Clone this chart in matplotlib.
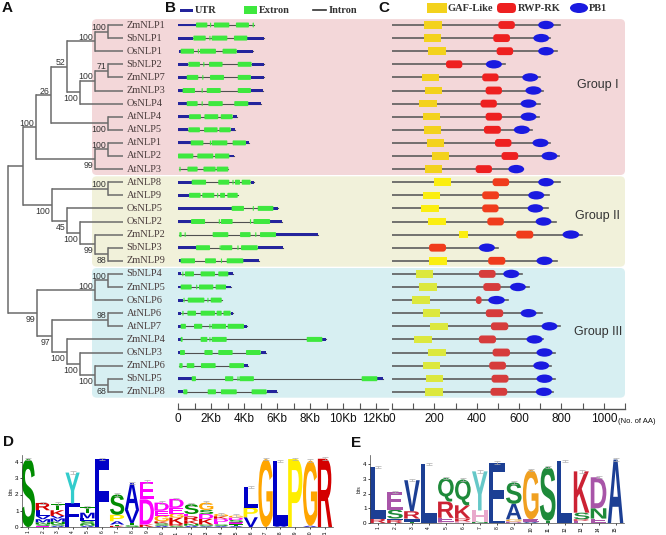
import matplotlib
matplotlib.use("Agg")
import matplotlib.pyplot as plt
from matplotlib.patches import Rectangle, FancyBboxPatch, Ellipse, PathPatch
from matplotlib.textpath import TextPath
from matplotlib.font_manager import FontProperties
from matplotlib.transforms import Affine2D, blended_transform_factory

plt.rcParams["font.family"] = ["Liberation Sans", "DejaVu Sans"]

# ---------------- data ----------------
genes = ["ZmNLP1", "SbNLP1", "OsNLP1", "SbNLP2", "ZmNLP7", "ZmNLP3", "OsNLP4",
         "AtNLP4", "AtNLP5", "AtNLP1", "AtNLP2", "AtNLP3",
         "AtNLP8", "AtNLP9", "OsNLP5", "OsNLP2", "ZmNLP2", "SbNLP3", "ZmNLP9",
         "SbNLP4", "ZmNLP5", "OsNLP6", "AtNLP6", "AtNLP7", "ZmNLP4", "OsNLP3",
         "ZmNLP6", "SbNLP5", "ZmNLP8"]
group_names = ["Group I", "Group II", "Group III"]
group_sizes = [12, 7, 10]

# tree nodes: (depth, bootstrap, label side -1 above / +1 below, children)
tree = (8, "", 0, [
    (23, "", 0, [
        (36, "100", -1, [
            (51, "26", -1, [
                (67, "52", -1, [
                    (95, "100", -1, [(108, "100", -1, ["ZmNLP1", "SbNLP1"]), "OsNLP1"]),
                    (80, "100", 1, [
                        (95, "100", -1, [(108, "71", -1, ["SbNLP2", "ZmNLP7"]), "ZmNLP3"]),
                        "OsNLP4"]),
                ]),
                (108, "100", 1, ["AtNLP4", "AtNLP5"]),
            ]),
            (95, "99", 1, [(108, "100", -1, ["AtNLP1", "AtNLP2"]), "AtNLP3"]),
        ]),
        (52, "100", 1, [
            (108, "100", -1, ["AtNLP8", "AtNLP9"]),
            (67, "45", 1, ["OsNLP5",
                (80, "100", 1, ["OsNLP2",
                    (95, "99", 1, ["ZmNLP2", (108, "88", 1, ["SbNLP3", "ZmNLP9"])])])]),
        ]),
    ]),
    (37, "99", 1, [
        (95, "100", -1, [(108, "100", -1, ["SbNLP4", "ZmNLP5"]), "OsNLP6"]),
        (52, "97", 1, [
            (108, "98", -1, ["AtNLP6", "AtNLP7"]),
            (67, "100", 1, ["ZmNLP4",
                (80, "100", 1, ["OsNLP3",
                    (95, "100", 1, ["ZmNLP6", (108, "68", 1, ["SbNLP5", "ZmNLP8"])])])]),
        ]),
    ]),
])
tree_tip = 123

# gene structures (Kb)
gene_utr = [
    [(0.02, 1.09)], [(0, 0.93), (4.2, 5.23)], [(0.08, 0.16), (3.56, 4.53)],
    [(0, 0.63), (4.46, 5.21)], [(0, 0.53), (4.42, 5.23)], [(0, 0.28), (4.42, 5.13)],
    [(0, 0.53), (4.26, 5.03)], [(0, 0.67), (3.31, 3.56)], [(0, 0.63), (3.19, 3.45)],
    [(0, 0.77), (4.12, 4.32)], [(3.11, 3.41)], [],
    [(0, 0.83), (4.4, 4.6)], [(0, 0.67)], [(0, 3.25), (5.78, 6.04)],
    [(0, 0.79), (5.58, 6.28)], [(5.94, 8.5)], [(0, 1.09), (4.83, 6.34)],
    [(0.08, 0.16), (3.96, 4.93)],
    [(0, 0.2), (3.05, 3.31)], [(0, 0.16), (2.91, 3.21)], [(0, 0.28)],
    [(0, 0.16), (3.19, 3.35)], [(0, 0.16), (4.0, 4.16)], [(0, 0.16), (8.75, 8.95)],
    [(0, 0.12), (5.01, 5.31)], [(4.0, 4.26)], [(0, 0.83), (12.08, 12.44)],
    [(0, 0.32), (5.37, 6.02)],
]
gene_exon = [
    [(1.09, 1.78), (1.94, 2.0), (2.18, 3.11), (3.51, 4.3), (4.52, 4.6)],
    [(0.93, 1.68), (1.9, 1.96), (2.04, 2.99), (3.39, 4.2)],
    [(0.16, 0.97), (1.2, 1.25), (1.33, 2.3), (2.7, 3.56)],
    [(0.63, 1.33), (1.53, 1.58), (1.88, 2.7), (3.62, 4.46)],
    [(0.53, 1.23), (1.47, 1.52), (1.94, 2.79), (3.62, 4.42)],
    [(0.28, 1.03), (1.43, 1.48), (1.74, 2.59), (3.62, 4.42)],
    [(0.53, 1.19), (1.43, 1.48), (1.84, 2.71), (3.41, 4.26)],
    [(0.67, 1.39), (1.6, 2.44), (2.59, 3.31)],
    [(0.63, 1.33), (1.58, 2.4), (2.5, 3.19)],
    [(0.77, 1.54), (1.93, 1.98), (2.04, 2.99), (3.31, 4.12)],
    [(0, 0.93), (1.17, 2.14), (2.24, 3.11)],
    [(0.08, 0.16), (0.57, 1.19), (1.54, 2.28), (2.34, 3.05)],
    [(0.83, 1.7), (2.44, 3.11), (3.3, 3.35), (3.45, 3.76), (3.86, 4.4)],
    [(0.67, 1.37), (1.47, 2.2), (2.37, 2.42), (2.55, 2.85), (2.99, 3.62)],
    [(3.25, 4.0), (4.53, 4.6), (4.83, 5.78)],
    [(0.79, 1.64), (2.47, 2.52), (2.6, 3.31), (4.36, 4.41), (4.57, 5.58)],
    [(0.08, 0.22), (0.4, 0.46), (2.1, 3.05), (3.76, 4.4), (4.68, 4.74), (4.97, 5.94)],
    [(1.09, 1.94), (2.52, 2.57), (2.6, 3.29), (3.6, 3.65), (3.82, 4.83)],
    [(0.16, 1.03), (1.64, 2.3), (2.6, 2.65), (2.95, 3.96)],
    [(0.26, 0.32), (0.42, 0.97), (1.37, 2.24), (2.44, 3.05)],
    [(0.16, 0.83), (1.1, 1.15), (1.27, 2.14), (2.28, 2.91)],
    [(0.33, 0.4), (0.59, 1.6), (1.78, 1.85), (1.98, 2.65)],
    [(0.26, 0.34), (0.57, 1.09), (1.37, 2.24), (2.34, 2.65), (2.75, 3.19)],
    [(0.16, 0.48), (0.97, 1.47), (1.9, 1.96), (2.04, 2.91), (3.01, 4.0)],
    [(0.16, 0.28), (1.37, 1.78), (1.9, 1.95), (2.04, 2.95), (7.8, 8.75)],
    [(0.12, 0.42), (1.6, 2.1), (2.44, 3.31), (4.12, 5.01)],
    [(0.08, 0.28), (0.53, 0.99), (1.39, 2.28), (3.11, 4.0)],
    [(0.83, 1.09), (2.85, 3.35), (3.6, 3.65), (3.72, 4.6), (11.13, 12.08)],
    [(0.32, 0.57), (1.8, 2.3), (2.6, 3.56), (4.46, 5.37)],
]

# protein domains (AA)
prot_len = [792, 748, 781, 533, 701, 714, 698, 695, 659, 745, 789, 619,
            792, 742, 737, 772, 898, 502, 777,
            616, 646, 549, 706, 792, 714, 769, 753, 769, 761]
gaf = [(151, 234), (151, 231), (171, 253), None, (140, 220), (156, 236), (129, 211),
       (148, 228), (151, 233), (164, 245), (187, 269), (156, 237),
       (198, 278), (145, 226), (138, 220), (171, 253), (316, 357), None, (176, 258),
       (113, 195), (127, 211), (96, 178), (145, 226), (179, 263), (105, 187),
       (171, 253), (145, 226), (160, 242), (156, 239)]
rwp = [(502, 580), (478, 557), (494, 572), (255, 332), (426, 503), (442, 519), (418, 495),
       (442, 519), (434, 514), (486, 564), (517, 596), (395, 472),
       (475, 553), (426, 505), (426, 503), (450, 528), (586, 667), (175, 255), (454, 535),
       (410, 489), (431, 513), (396, 423), (443, 525), (467, 549), (410, 491),
       (475, 557), (459, 538), (470, 550), (465, 544)]
pb1 = [(690, 764), (667, 742), (690, 764), (443, 519), (615, 690), (630, 706), (607, 682),
       (607, 682), (575, 651), (663, 739), (706, 781), (549, 624),
       (690, 764), (643, 719), (640, 714), (678, 753), (805, 884), (410, 486), (682, 758),
       (525, 601), (557, 632), (454, 533), (607, 682), (706, 781), (635, 711),
       (682, 758), (667, 742), (682, 758), (679, 755)]

# sequence logos: stacks bottom -> top (letter, bits)
logo_d = [
    [("S", 4.18)],
    [("E", 0.06), ("S", 0.1), ("N", 0.12), ("M", 0.2), ("V", 0.2), ("L", 0.35), ("R", 0.45)],
    [("A", 0.08), ("S", 0.1), ("N", 0.15), ("M", 0.2), ("V", 0.15), ("K", 0.35), ("T", 0.4)],
    [("L", 0.1), ("F", 1.35), ("Y", 1.9)],
    [("A", 0.08), ("N", 0.1), ("S", 0.2), ("L", 0.15), ("M", 0.35), ("T", 0.35)],
    [("F", 4.18)],
    [("K", 0.07), ("T", 0.08), ("A", 0.2), ("P", 0.4), ("S", 1.25)],
    [("S", 0.1), ("T", 0.15), ("V", 0.8), ("A", 1.65)],
    [("K", 0.15), ("D", 1.55), ("E", 1.1)],
    [("A", 0.08), ("S", 0.15), ("K", 0.12), ("G", 0.35), ("E", 0.3), ("D", 0.5)],
    [("S", 0.08), ("R", 0.1), ("K", 0.4), ("G", 0.25), ("E", 0.35), ("D", 0.55)],
    [("A", 0.08), ("N", 0.12), ("K", 0.2), ("R", 0.25), ("E", 0.15), ("S", 0.6)],
    [("A", 0.05), ("S", 0.1), ("K", 0.35), ("D", 0.3), ("S", 0.25), ("G", 0.45)],
    [("A", 0.06), ("S", 0.1), ("E", 0.15), ("D", 0.2), ("K", 0.15), ("G", 0.15)],
    [("A", 0.06), ("T", 0.1), ("E", 0.12), ("S", 0.15), ("D", 0.15), ("G", 0.12)],
    [("V", 0.6), ("P", 0.6), ("L", 1.25)],
    [("G", 4.18)],
    [("A", 0.08), ("L", 3.97)],
    [("P", 4.18)],
    [("A", 0.08), ("G", 4.0)],
    [("R", 4.2)],
]
logo_e = [
    [("R", 0.3), ("L", 3.5)],
    [("R", 0.2), ("I", 0.1), ("S", 0.6), ("E", 1.2)],
    [("T", 0.1), ("I", 0.2), ("R", 0.5), ("V", 2.1)],
    [("L", 4.0)],
    [("P", 0.1), ("E", 0.25), ("R", 1.1), ("Q", 1.6)],
    [("P", 0.1), ("R", 0.2), ("K", 0.9), ("Q", 1.75)],
    [("N", 0.1), ("H", 0.75), ("Y", 2.65)],
    [("I", 0.15), ("F", 3.95)],
    [("D", 0.1), ("G", 0.15), ("A", 1.05), ("S", 1.45)],
    [("A", 0.1), ("E", 0.15), ("G", 3.35)],
    [("T", 0.15), ("S", 3.65)],
    [("L", 4.2)],
    [("E", 0.15), ("R", 0.1), ("S", 0.45), ("K", 2.8)],
    [("E", 0.3), ("N", 0.7), ("D", 2.1)],
    [("A", 4.3)],
]
colors_d = {"S": "#008c00", "T": "#008c00", "N": "#008c00", "Q": "#008c00",
            "R": "#d40000", "K": "#d40000", "Y": "#33cccc",
            "F": "#0000c8", "L": "#0000c8", "M": "#0000c8", "V": "#0000c8",
            "A": "#0000c8", "I": "#0000c8", "P": "#ffee00", "G": "#ffa500",
            "E": "#ff00ff", "D": "#ff00ff", "H": "#ff00ff"}
colors_e = {"L": "#1c3f94", "V": "#1c3f94", "F": "#1c3f94", "A": "#1c3f94", "I": "#1c3f94",
            "R": "#cc2233", "K": "#cc2233", "Q": "#1e8a3a", "S": "#1e8a3a",
            "N": "#1e8a3a", "T": "#1e8a3a", "Y": "#66c8c8", "H": "#e8a8cc",
            "P": "#e8a8cc", "G": "#f0a020", "E": "#a855a8", "D": "#a855a8"}

band_colors = ["#f3d7d9", "#f1f1da", "#d7eff2"]
gaf_colors = ["#f3d21c", "#fbee10", "#dce83e"]
rwp_colors = ["#ee2020", "#f03c1c", "#d63c3c"]
pb1_color = "#1a1ae0"
utr_color = "#24249c"
exon_color = "#3ee83e"
tree_color = "#6b6b6b"

# ---------------- layout ----------------
W, H = 666, 535
fig = plt.figure(figsize=(W / 100, H / 100), dpi=100)
ROW0, ROW_PX = 25, 13.1


def px_axes(x0, y0, x1, y1):
    ax = fig.add_axes([x0 / W, 1 - y1 / H, (x1 - x0) / W, (y1 - y0) / H])
    ax.set_facecolor("none")
    return ax


def set_rows(ax, y0, y1):
    ax.set_ylim((y1 - ROW0) / ROW_PX, (y0 - ROW0) / ROW_PX)


group_of = []
for g, n in enumerate(group_sizes):
    group_of += [g] * n

# group background bands
ax_bg = px_axes(92, 10, 625, 409)
set_rows(ax_bg, 10, 409)
ax_bg.set_xlim(0, 1)
ax_bg.axis("off")
start = 0
for g, n in enumerate(group_sizes):
    top, bot = start - 0.45, start + n - 1 + 0.45
    ax_bg.add_patch(FancyBboxPatch((0, top), 1, bot - top,
                                   boxstyle="round,pad=0,rounding_size=0.009",
                                   mutation_aspect=40, fc=band_colors[g], ec="none"))
    start += n
for g, yrow in enumerate([4.6, 14.6, 23.4]):
    ax_bg.text(0.949, yrow, group_names[g], ha="center", va="center",
               fontsize=9, color="#333333")

# ---- A: tree ----
ax_t = px_axes(0, 10, 130, 409)
set_rows(ax_t, 10, 409)
ax_t.set_xlim(0, 130)
ax_t.axis("off")


def draw_node(node, parent_x):
    if isinstance(node, str):
        y = genes.index(node)
        ax_t.plot([parent_x, tree_tip], [y, y], color=tree_color, lw=1.1,
                  solid_capstyle="butt")
        ax_t.text(tree_tip + 3.5, y, node, ha="left", va="center", fontsize=7.5,
                  family="Liberation Serif", color="#4a3c3c", clip_on=False)
        return y
    depth, boot, side, kids = node
    ys = [draw_node(k, depth) for k in kids]
    y = (ys[0] + ys[-1]) / 2
    ax_t.plot([depth, depth], [ys[0], ys[-1]], color=tree_color, lw=1.1,
              solid_capstyle="projecting")
    if parent_x is not None:
        ax_t.plot([parent_x, depth], [y, y], color=tree_color, lw=1.1,
                  solid_capstyle="butt")
    if boot:
        off = -0.3 if side < 0 else 0.5
        ax_t.text(depth - 1.5, y + off, boot, ha="right", va="center",
                  fontsize=6.3, color="#333333")
    return y


draw_node(tree, None)

# ---- B: gene structure ----
ax_b = px_axes(178, 10, 388, 409)
set_rows(ax_b, 10, 409)
ax_b.set_xlim(0, 210 / 16.5)
for i in range(len(genes)):
    segs = gene_utr[i] + gene_exon[i]
    s0 = min(s for s, e in segs)
    s1 = max(e for s, e in segs)
    ax_b.plot([s0, s1], [i, i], color="#505050", lw=0.8, zorder=2)
    for s, e in gene_utr[i]:
        ax_b.add_patch(Rectangle((s, i - 0.11), e - s, 0.22, fc=utr_color, ec="none", zorder=3))
    for s, e in gene_exon[i]:
        w = max(e - s, 0.07)
        ax_b.add_patch(FancyBboxPatch((s, i - 0.19), w, 0.38,
                                      boxstyle="round,pad=0,rounding_size=0.05",
                                      mutation_aspect=1.2,
                                      fc=exon_color, ec="none", zorder=4))

# ---- C: protein domains ----
ax_c = px_axes(392, 10, 625, 409)
set_rows(ax_c, 10, 409)
ax_c.set_xlim(0, 233 / 0.212)
for i in range(len(genes)):
    g = group_of[i]
    ax_c.plot([0, prot_len[i]], [i, i], color="#5c5c5c", lw=1.2, zorder=2)
    if gaf[i]:
        s, e = gaf[i]
        ax_c.add_patch(Rectangle((s, i - 0.29), e - s, 0.58, fc=gaf_colors[g], ec="none", zorder=3))
    s, e = rwp[i]
    ax_c.add_patch(FancyBboxPatch((s, i - 0.3), e - s, 0.6,
                                  boxstyle="round,pad=0,rounding_size=14",
                                  mutation_aspect=0.0162,
                                  fc=rwp_colors[g], ec="none", zorder=3))
    s, e = pb1[i]
    ax_c.add_patch(Ellipse(((s + e) / 2, i), e - s, 0.64, fc=pb1_color, ec="none", zorder=3))

# scale axes for B and C
for ax, major, minor, labels in [
        (ax_b, range(0, 13, 2), range(0, 13), ["0"] + [f"{k}Kb" for k in range(2, 13, 2)]),
        (ax_c, range(0, 1001, 200), range(0, 1101, 100), [str(k) for k in range(0, 1001, 200)])]:
    for sp in ["top", "left", "right"]:
        ax.spines[sp].set_visible(False)
    ax.spines["bottom"].set_color("#555555")
    ax.spines["bottom"].set_linewidth(1.0)
    ax.set_xticks(list(major))
    ax.set_xticklabels(labels, fontsize=8.5, color="#111111")
    ax.set_xticks(list(minor), minor=True)
    ax.tick_params(axis="x", which="both", direction="in", length=4, width=0.8,
                   color="#555555", pad=3)
    ax.set_yticks([])
ax_c.text(1068, -0.031, "(No. of AA)",
          transform=blended_transform_factory(ax_c.transData, ax_c.transAxes),
          ha="left", va="center", fontsize=5.5, color="#111111", clip_on=False)

# ---- legends and panel letters ----
ax0 = px_axes(0, 0, W, H)
ax0.set_xlim(0, W)
ax0.set_ylim(H, 0)
ax0.axis("off")
for x, y, s in [(7, 8, "A"), (171, 8, "B"), (384, 8, "C"), (8, 442, "D"), (356, 443, "E")]:
    ax0.text(x, y, s, ha="center", va="center", fontsize=11, fontweight="bold", color="#111111")
leg_kw = dict(ha="left", va="center", fontsize=7.5, fontweight="bold",
              family="Liberation Serif", color="#333333")
ax0.add_patch(Rectangle((180, 8.5), 13, 3, fc=utr_color, ec="none"))
ax0.text(195, 10.5, "UTR", **leg_kw)
ax0.add_patch(Rectangle((244, 6), 13, 8, fc=exon_color, ec="none"))
ax0.text(259, 10.5, "Extron", **leg_kw)
ax0.plot([313, 326], [10, 10], color="#333333", lw=1.2)
ax0.text(329, 10.5, "Intron", **leg_kw)
ax0.add_patch(Rectangle((427, 3), 20, 10, fc=gaf_colors[0], ec="none"))
ax0.text(448, 8.5, "GAF-Like", **leg_kw)
ax0.add_patch(FancyBboxPatch((497, 3), 19, 10, boxstyle="round,pad=0,rounding_size=4",
                             fc=rwp_colors[0], ec="none"))
ax0.text(518, 8.5, "RWP-RK", **leg_kw)
ax0.add_patch(Ellipse((579, 8), 18, 10, fc=pb1_color, ec="none"))
ax0.text(589, 8.5, "PB1", **leg_kw)

# ---- D, E: sequence logos ----
fp_bold = FontProperties(family="Liberation Sans", weight="bold")


def draw_letter(ax, ch, xc, y0, h, w, color, fp):
    tp = TextPath((0, 0), ch, size=1, prop=fp)
    bb = tp.get_extents()
    tr = (Affine2D().translate(-bb.x0, -bb.y0)
          .scale(w / bb.width, h / bb.height).translate(xc - w / 2, y0))
    ax.add_patch(PathPatch(tr.transform_path(tp), fc=color, ec="none", lw=0))


def draw_logo(ax, stacks, cmap, fp, wfrac):
    tops = []
    for c, stack in enumerate(stacks, start=1):
        y = 0
        for ch, h in stack:
            draw_letter(ax, ch, c, y, h, wfrac, cmap[ch], fp)
            y += h
        tops.append(y)
    xs = list(range(1, len(stacks) + 1))
    ax.errorbar(xs, tops, yerr=0.08, fmt="none", ecolor="#b0b0b0", elinewidth=0.5,
                capsize=2.5, capthick=0.5)
    ax.set_xticks(xs)
    ax.set_xticklabels([str(x) for x in xs], rotation=90, fontsize=3.5)
    ax.set_yticks(range(5))
    ax.set_yticklabels([str(k) for k in range(5)], fontsize=4.5)
    ax.set_ylabel("bits", fontsize=3.5, labelpad=1)
    ax.tick_params(length=1.5, width=0.5, pad=1)
    for sp in ["top", "right"]:
        ax.spines[sp].set_visible(False)
    for sp in ["left", "bottom"]:
        ax.spines[sp].set_linewidth(0.5)
        ax.spines[sp].set_color("#444444")


ax_d = px_axes(22, 455, 333, 527)
ax_d.set_xlim(0.596, 21.54)
ax_d.set_ylim(0, 72 / 16.25)
draw_logo(ax_d, logo_d, colors_d, fp_bold, 0.96)

ax_e = px_axes(370, 455, 624, 523)
ax_e.set_xlim(0.527, 15.5)
ax_e.set_ylim(0, 68 / 14.75)
draw_logo(ax_e, logo_e, colors_e, fp_bold, 0.92)

fig.savefig("out.png", dpi=100)
